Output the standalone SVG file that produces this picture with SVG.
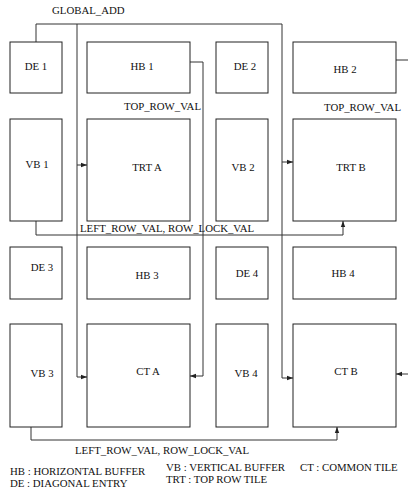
<svg xmlns="http://www.w3.org/2000/svg" width="408" height="490" viewBox="0 0 408 490">
<defs>
<marker id="ah" viewBox="0 0 6 6" refX="6" refY="3" markerWidth="6" markerHeight="6" markerUnits="userSpaceOnUse" orient="auto">
<path d="M0,0.8 L6,3 L0,5.2 z" fill="#222"/>
</marker>
<style>
.box{fill:#fff;stroke:#222;stroke-width:1}
.t{font-family:"Liberation Serif","Times New Roman",serif;font-size:10.8px;fill:#111}
.c{text-anchor:middle}
.w{fill:none;stroke:#333;stroke-width:1}
.a{fill:none;stroke:#333;stroke-width:1;marker-end:url(#ah)}
</style>
</defs>
<rect width="408" height="490" fill="#fff"/>
<g id="connectors">
<path class="w" d="M36,42 V24 H282 V378"/>
<path class="w" d="M77,24 V377"/>
<path class="a" d="M77,165 H87"/>
<path class="a" d="M77,377 H87"/>
<path class="a" d="M282,162 H293"/>
<path class="a" d="M282,378 H293"/>
<path class="a" d="M190,62 H203 V376 H190"/>
<path class="w" d="M396,60 H408"/>
<path class="a" d="M408,374 H396"/>
<path class="a" d="M36,221 V235 H343 V221"/>
<path class="a" d="M31,427 V440 H337 V427"/>
<text class="t" x="52" y="14">GLOBAL_ADD</text>
<text class="t" x="124" y="110">TOP_ROW_VAL</text>
<text class="t" x="324" y="111">TOP_ROW_VAL</text>
<text class="t" x="80" y="232">LEFT_ROW_VAL, ROW_LOCK_VAL</text>
<text class="t" x="75" y="454">LEFT_ROW_VAL, ROW_LOCK_VAL</text>
</g>
<g id="DE1"><rect class="box" x="10" y="42" width="52" height="51"/><text class="t c" x="36" y="70">DE 1</text></g>
<g id="HB1"><rect class="box" x="87" y="42" width="103" height="51"/><text class="t c" x="142" y="70">HB 1</text></g>
<g id="DE2"><rect class="box" x="216" y="42" width="52" height="51"/><text class="t c" x="245" y="70">DE 2</text></g>
<g id="HB2"><rect class="box" x="293" y="42" width="103" height="51"/><text class="t c" x="345" y="73">HB 2</text></g>
<g id="VB1"><rect class="box" x="10" y="119" width="52" height="102"/><text class="t c" x="37" y="168">VB 1</text></g>
<g id="TRTA"><rect class="box" x="87" y="119" width="103" height="102"/><text class="t c" x="147" y="171">TRT A</text></g>
<g id="VB2"><rect class="box" x="216" y="119" width="52" height="102"/><text class="t c" x="243" y="171">VB 2</text></g>
<g id="TRTB"><rect class="box" x="293" y="119" width="103" height="102"/><text class="t c" x="351" y="171">TRT B</text></g>
<g id="DE3"><rect class="box" x="10" y="247" width="52" height="52"/><text class="t c" x="42" y="271">DE 3</text></g>
<g id="HB3"><rect class="box" x="87" y="247" width="103" height="52"/><text class="t c" x="147" y="279">HB 3</text></g>
<g id="DE4"><rect class="box" x="216" y="247" width="52" height="52"/><text class="t c" x="247" y="277">DE 4</text></g>
<g id="HB4"><rect class="box" x="293" y="247" width="103" height="52"/><text class="t c" x="343" y="277">HB 4</text></g>
<g id="VB3"><rect class="box" x="10" y="324" width="52" height="103"/><text class="t c" x="42" y="377">VB 3</text></g>
<g id="CTA"><rect class="box" x="87" y="324" width="103" height="103"/><text class="t c" x="148" y="375">CT A</text></g>
<g id="VB4"><rect class="box" x="216" y="324" width="52" height="103"/><text class="t c" x="246" y="377">VB 4</text></g>
<g id="CTB"><rect class="box" x="293" y="324" width="103" height="103"/><text class="t c" x="346" y="375">CT B</text></g>
<g id="legend">
<text class="t" x="10" y="475">HB : HORIZONTAL BUFFER</text>
<text class="t" x="10" y="487">DE : DIAGONAL ENTRY</text>
<text class="t" x="166" y="471">VB : VERTICAL BUFFER</text>
<text class="t" x="300" y="471">CT : COMMON TILE</text>
<text class="t" x="166" y="483">TRT : TOP ROW TILE</text>
</g>
</svg>
